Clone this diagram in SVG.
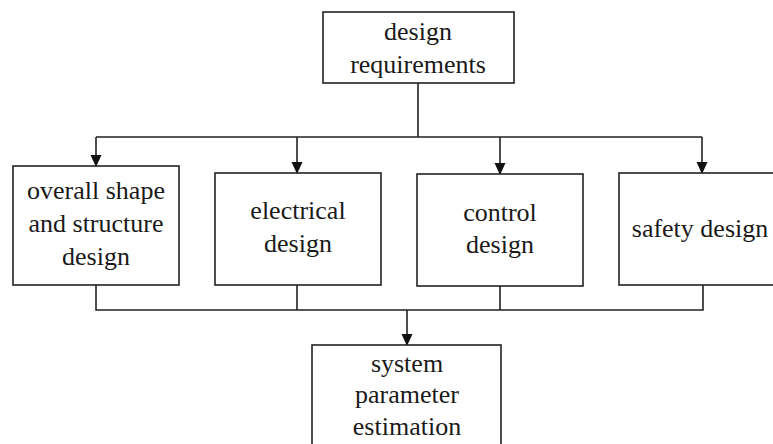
<svg xmlns="http://www.w3.org/2000/svg" width="773" height="444" viewBox="0 0 773 444">
<defs>
<marker id="arr" markerWidth="12" markerHeight="12" refX="11" refY="6" orient="auto" markerUnits="userSpaceOnUse">
<path d="M0,0.5 L12,6 L0,11.5 Z" fill="#111"/>
</marker>
</defs>
<style>
.box{fill:#fff;stroke:#222;stroke-width:1.6}
.ln{fill:none;stroke:#222;stroke-width:1.6}
.t{font-family:'Liberation Serif','Times New Roman',Tinos,'Noto Serif','DejaVu Serif','FreeSerif','Nimbus Roman',Times,serif;font-size:26px;fill:#1a1a1a;text-anchor:middle}
</style>
<rect width="773" height="444" fill="#fff"/>
<g id="connectors">
<path class="ln" d="M418,83 V137 M96,137 H702"/>
<path class="ln" d="M96,137 V166" marker-end="url(#arr)"/>
<path class="ln" d="M297,137 V173" marker-end="url(#arr)"/>
<path class="ln" d="M500,137 V174" marker-end="url(#arr)"/>
<path class="ln" d="M702,137 V173" marker-end="url(#arr)"/>
<path class="ln" d="M96,285 V310 H703 V285 M297,285 V310 M500,286 V310"/>
<path class="ln" d="M407,310 V345" marker-end="url(#arr)"/>
</g>
<g id="n_req" class="t">
<rect class="box" x="323" y="12" width="191" height="71"/>
<text x="418" y="40">design</text>
<text x="418" y="73">requirements</text>
</g>
<g id="n_shape" class="t">
<rect class="box" x="13" y="166" width="166" height="119"/>
<text x="96" y="199">overall shape</text>
<text x="96" y="232">and structure</text>
<text x="96" y="265">design</text>
</g>
<g id="n_elec" class="t">
<rect class="box" x="215" y="173" width="166" height="112"/>
<text x="298" y="219">electrical</text>
<text x="298" y="252">design</text>
</g>
<g id="n_ctrl" class="t">
<rect class="box" x="417" y="174" width="166" height="112"/>
<text x="500" y="221">control</text>
<text x="500" y="253">design</text>
</g>
<g id="n_safe" class="t">
<rect class="box" x="619" y="173" width="170" height="112"/>
<text x="700" y="237">safety design</text>
</g>
<g id="n_sys" class="t">
<rect class="box" x="312" y="345" width="189" height="120"/>
<text x="407" y="372">system</text>
<text x="407" y="403">parameter</text>
<text x="407" y="435">estimation</text>
</g>
</svg>
